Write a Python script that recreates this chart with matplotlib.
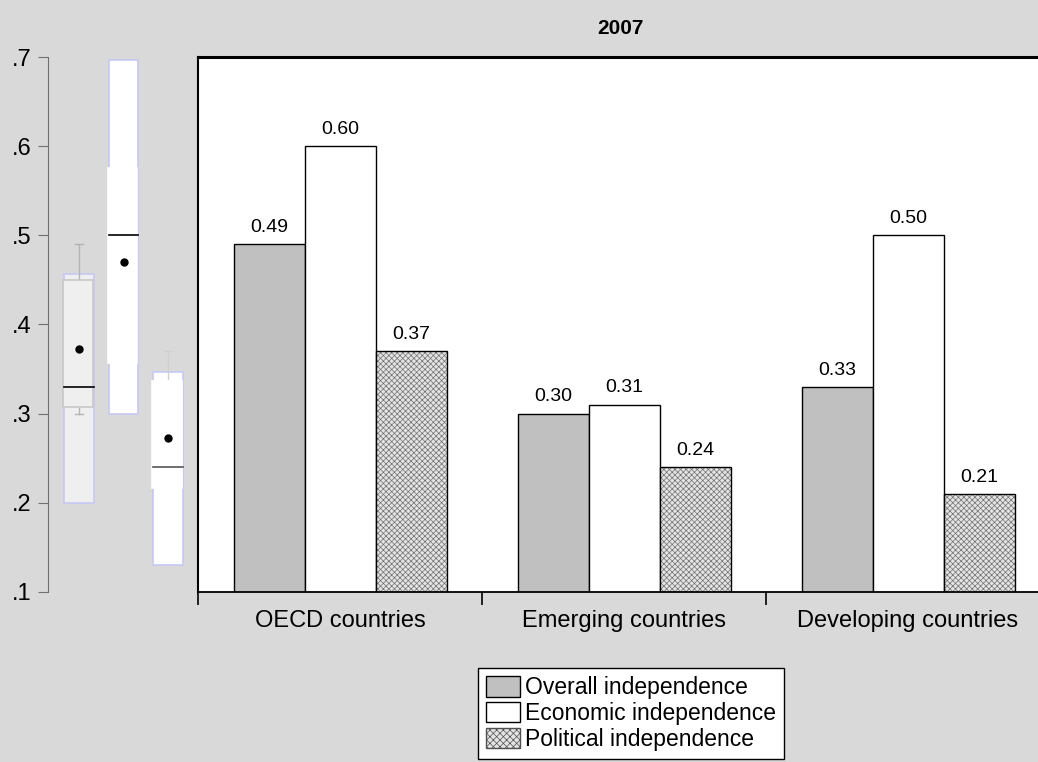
import numpy as np
import matplotlib
matplotlib.use('Agg')
from matplotlib import pyplot as plt
from matplotlib.patches import Patch

plt.rcParams['font.family'] = ['Liberation Sans', 'DejaVu Sans']
plt.rcParams['hatch.linewidth'] = 0.5

# dados
categorias = ['OECD countries', 'Emerging countries', 'Developing countries']
overall = [0.49, 0.30, 0.33]
economic = [0.60, 0.31, 0.50]
political = [0.37, 0.24, 0.21]
series_nomes = ['Overall independence', 'Economic independence', 'Political independence']

# boxplots (media, mediana, quartis, faixa sombreada, bigodes)
box_pos = [1, 2, 3]
box_media = [0.373, 0.47, 0.273]
box_mediana = [0.33, 0.50, 0.24]
box_q1 = [0.308, 0.357, 0.217]
box_q3 = [0.45, 0.575, 0.337]
box_ci_lo = [0.20, 0.30, 0.13]
box_ci_hi = [0.457, 0.697, 0.347]
bigode_lo = [0.30, 0.31, 0.21]
bigode_hi = [0.49, 0.60, 0.37]

yticks = [0.1, 0.2, 0.3, 0.4, 0.5, 0.6, 0.7]
yticklabels = ['.1', '.2', '.3', '.4', '.5', '.6', '.7']

fundo = '#d9d9d9'
fig = plt.figure(figsize=(10.38, 7.62), dpi=100, facecolor=fundo)

W, H = 1038.0, 762.0
y_bot, y_top = 592.0, 57.0

# eixo dos boxplots
axb = fig.add_axes([48 / W, (H - y_bot) / H, 150 / W, (y_bot - y_top) / H])
axb.patch.set_alpha(0)
axb.set_xlim(0.303, 3.674)
axb.set_ylim(0.1, 0.7)
for s in ['top', 'right', 'bottom']:
    axb.spines[s].set_visible(False)
axb.spines['left'].set_color('#707070')
axb.set_yticks(yticks)
axb.set_yticklabels(yticklabels, fontsize=17)
axb.tick_params(axis='y', length=7, color='#707070', pad=5)
axb.set_xticks([])

cor_box = ['#efefef', 'white', 'white']
cor_interna = ['#c8c8c8', 'white', 'white']
cor_bigode_hi = ['#b4b4b4', 'white', '#d0d0d0']
cor_bigode_lo = ['#b4b4b4', 'white', 'white']
cor_mediana = ['black', 'black', '#555555']
larg = 0.66
for i, p in enumerate(box_pos):
    axb.bar(p, box_ci_hi[i] - box_ci_lo[i], bottom=box_ci_lo[i], width=larg,
            color=cor_box[i], edgecolor='#c8c8f4', linewidth=1.2, zorder=1)
    # bigodes
    axb.plot([p, p], [box_q3[i], bigode_hi[i]], color=cor_bigode_hi[i], lw=1, zorder=2)
    axb.plot([p - 0.1, p + 0.1], [bigode_hi[i]] * 2, color=cor_bigode_hi[i], lw=1, zorder=2)
    axb.plot([p, p], [box_q1[i], bigode_lo[i]], color=cor_bigode_lo[i], lw=1, zorder=2)
    axb.plot([p - 0.1, p + 0.1], [bigode_lo[i]] * 2, color=cor_bigode_lo[i], lw=1, zorder=2)
    axb.bar(p - 0.02, box_q3[i] - box_q1[i], bottom=box_q1[i], width=larg,
            color=cor_box[i], edgecolor=cor_interna[i], linewidth=1.2, zorder=3)
    axb.plot([p - larg / 2, p + larg / 2], [box_mediana[i]] * 2,
             color=cor_mediana[i], lw=1.2, zorder=4)
    axb.plot(p, box_media[i], 'o', color='black', ms=5, zorder=5)

# eixo principal
ax = fig.add_axes([198 / W, (H - y_bot) / H, 852 / W, (y_bot - y_top) / H])
ax.set_facecolor('white')
ax.set_ylim(0.1, 0.7)
ax.set_xlim(-0.5, 2.5)
ax.set_yticks([])
ax.spines['right'].set_visible(False)
ax.spines['top'].set_linewidth(2.2)
ax.spines['left'].set_linewidth(1.5)
ax.spines['bottom'].set_linewidth(1.3)

x = np.arange(len(categorias))
w = 0.25
b1 = ax.bar(x - w, overall, width=w, color='#c0c0c0', edgecolor='black', linewidth=1)
b2 = ax.bar(x, economic, width=w, color='white', edgecolor='black', linewidth=1)
ax.bar(x + w, political, width=w, color='#e4e4e4', edgecolor='#707070', linewidth=0,
       hatch='xxxxxx')
b3 = ax.bar(x + w, political, width=w, fill=False, edgecolor='black', linewidth=1)

for barras, vals in [(b1, overall), (b2, economic), (b3, political)]:
    for r, v in zip(barras, vals):
        ax.annotate(f'{v:.2f}', (r.get_x() + r.get_width() / 2, v),
                    xytext=(0, 6), textcoords='offset points',
                    ha='center', va='bottom', fontsize=14)

ax.set_xticks(x)
ax.set_xticklabels(categorias, fontsize=17)
ax.tick_params(axis='x', which='major', length=0, pad=13)
ax.set_xticks([-0.5, 0.5, 1.5, 2.5], minor=True)
ax.tick_params(axis='x', which='minor', length=9, width=1.2, color='black')

fig.text(620 / W, (H - 28) / H, '2007', ha='center', va='center',
         fontsize=15, fontweight='bold', family=['Liberation Sans Narrow', 'Liberation Sans'])

handles = [Patch(facecolor='#c0c0c0', edgecolor='black'),
           Patch(facecolor='white', edgecolor='black'),
           Patch(facecolor='#e4e4e4', edgecolor='#505050', hatch='xxxxx')]
leg = fig.legend(handles, series_nomes, loc='upper left',
                 bbox_to_anchor=(478 / W, (H - 668) / H), fontsize=16.5,
                 frameon=True, fancybox=False, edgecolor='black', framealpha=1,
                 borderpad=0.35, labelspacing=0.12, handlelength=1.5,
                 handleheight=1.0, handletextpad=0.2, borderaxespad=0)
leg.get_frame().set_linewidth(1)

plt.savefig('out.png', dpi=100, facecolor=fundo)
